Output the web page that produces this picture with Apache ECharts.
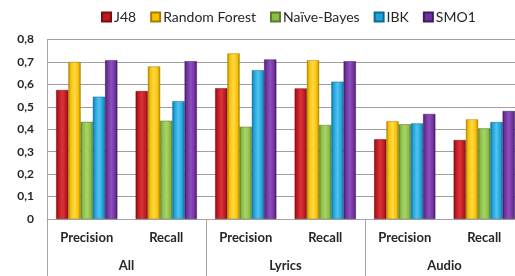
<!DOCTYPE html>
<html>
<head>
<meta charset="utf-8">
<script src="https://cdn.jsdelivr.net/npm/echarts@6/dist/echarts.min.js"></script>
<style>
  html, body { margin: 0; padding: 0; background: #fff; }
  #chart { width: 515px; height: 276px; }
</style>
</head>
<body>
<div id="chart"></div>
<script>
// sub-categories (bottom row) and groups (second row)
const metrics = ['Precision', 'Recall', 'Precision', 'Recall', 'Precision', 'Recall'];
const groups = ['All', 'Lyrics', 'Audio'];

// values per classifier, in the order of metrics above
const j48 = [0.575, 0.570, 0.583, 0.582, 0.355, 0.352];
const randomForest = [0.700, 0.680, 0.738, 0.708, 0.436, 0.444];
const naiveBayes = [0.433, 0.438, 0.411, 0.419, 0.422, 0.404];
const ibk = [0.545, 0.525, 0.663, 0.612, 0.426, 0.432];
const smo1 = [0.708, 0.703, 0.711, 0.703, 0.468, 0.481];

const yTicks = [0, 0.1, 0.2, 0.3, 0.4, 0.5, 0.6, 0.7, 0.8];

const FONT = 'Lato, "Open Sans", sans-serif';

// bevel look: dark edges, light middle
function bevel(dark, base, light) {
  return new echarts.graphic.LinearGradient(0, 0, 1, 0, [
    { offset: 0, color: dark },
    { offset: 0.18, color: base },
    { offset: 0.5, color: light },
    { offset: 0.82, color: base },
    { offset: 1, color: dark }
  ]);
}

const seriesDefs = [
  { name: 'J48', data: j48, c: ['#7a0d12', '#c0171f', '#d9343b'] },
  { name: 'Random Forest', data: randomForest, c: ['#a67c00', '#f7c100', '#ffd84a'] },
  { name: 'Naïve-Bayes', data: naiveBayes, c: ['#5a7d2a', '#8bbd47', '#a8d46a'] },
  { name: 'IBK', data: ibk, c: ['#0e6a92', '#1ea3dc', '#52c2ee'] },
  { name: 'SMO1', data: smo1, c: ['#3f1a5e', '#7132a0', '#8d4fbb'] }
];

const chart = echarts.init(document.getElementById('chart'), null, { renderer: 'canvas' });

chart.setOption({
  backgroundColor: '#fff',
  animation: false,
  legend: {
    top: 5,
    left: 96,
    itemWidth: 9,
    itemHeight: 9,
    itemGap: 14,
    icon: 'rect',
    textStyle: { fontFamily: FONT, fontSize: 14, color: '#262626', padding: [0, 0, 0, -2] },
    data: seriesDefs.map(s => ({ name: s.name, itemStyle: { color: s.c[1] } }))
  },
  grid: { left: 47, width: 477, top: 39.5, bottom: 57, outerBoundsMode: 'none', containLabel: false },
  xAxis: [
    {
      type: 'category',
      data: metrics,
      position: 'bottom',
      axisLine: { show: true, lineStyle: { color: '#a6a6a6', width: 1 } },
      axisTick: { show: false },
      axisLabel: { margin: 12, fontFamily: FONT, fontSize: 13, fontWeight: 'bold', color: '#262626' }
    },
    {
      type: 'category',
      data: groups,
      position: 'bottom',
      axisLine: { show: false },
      axisTick: { show: true, inside: false, length: 60, lineStyle: { color: '#a6a6a6' } },
      axisLabel: { margin: 40, fontFamily: FONT, fontSize: 13, fontWeight: 'bold', color: '#262626' }
    }
  ],
  yAxis: {
    type: 'value',
    min: yTicks[0],
    max: yTicks[yTicks.length - 1],
    interval: 0.1,
    axisLine: { show: true, lineStyle: { color: '#a6a6a6' } },
    axisTick: { show: false },
    splitLine: { lineStyle: { color: '#a0a0a0', width: 1 } },
    axisLabel: {
      margin: 13,
      fontFamily: FONT,
      fontSize: 12,
      fontWeight: 'bold',
      color: '#262626',
      formatter: v => (v === 0 ? '0' : v.toFixed(1).replace('.', ','))
    }
  },
  series: seriesDefs.map(s => ({
    name: s.name,
    type: 'bar',
    xAxisIndex: 0,
    data: s.data,
    barGap: '0%',
    barCategoryGap: '23%',
    itemStyle: {
      color: bevel(s.c[0], s.c[1], s.c[2]),
      borderColor: s.c[0],
      borderWidth: 0.5
    }
  }))
});
</script>
</body>
</html>
